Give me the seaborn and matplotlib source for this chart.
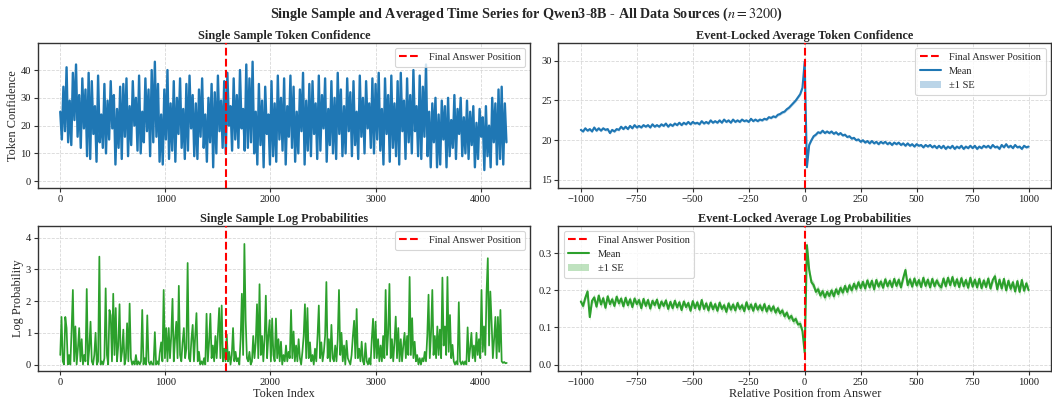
import numpy as np
import pandas as pd
import matplotlib
matplotlib.use("Agg")
import matplotlib.pyplot as plt
import seaborn as sns

# ---------------- data ----------------
suptitle_text = "Single Sample and Averaged Time Series for Qwen3-8B - All Data Sources ($n=3200$)"
titles = ["Single Sample Token Confidence", "Event-Locked Average Token Confidence",
          "Single Sample Log Probabilities", "Event-Locked Average Log Probabilities"]
answer_token = 1580          # final answer position in the single sample
conf_step = 15               # token spacing of the single-sample confidence readings
logp_step = 12               # token spacing of the single-sample log-prob readings
rel_step = 10                # spacing of event-locked readings
rel_start = -1000

single_conf = [
    25, 15, 34, 18, 41, 14, 29, 13, 39, 22, 42, 16, 31, 12, 37, 19, 33, 9, 39, 8,
    36, 17, 27, 7, 38, 14, 24, 12, 35, 10, 29, 15, 36, 19, 31, 6, 26, 12, 34, 8,
    35, 16, 37, 9, 27, 13, 36, 20, 30, 11, 38, 10, 25, 14, 37, 18, 33, 9, 40, 14,
    43, 16, 35, 7, 24, 6, 33, 15, 40, 8, 28, 11, 36, 7, 30, 17, 37, 12, 26, 8,
    35, 11, 38, 19, 31, 9, 28, 8, 33, 16, 37, 12, 24, 7, 30, 14, 35, 5, 32, 10,
    38, 18, 29, 12, 36, 10, 39, 20, 27, 11, 37, 15, 31, 12, 40, 19, 26, 11, 42, 12,
    37, 14, 43, 10, 25, 6, 35, 13, 29, 5, 34, 17, 24, 6, 36, 9, 28, 7, 38, 15,
    30, 11, 37, 6, 27, 16, 38, 12, 34, 7, 25, 10, 33, 18, 39, 6, 29, 11, 35, 9,
    36, 17, 28, 8, 38, 11, 31, 19, 37, 7, 26, 13, 36, 10, 30, 8, 39, 17, 33, 9,
    27, 10, 37, 18, 32, 9, 36, 13, 25, 8, 38, 16, 30, 10, 36, 19, 28, 12, 37, 10,
    35, 15, 39, 11, 26, 6, 37, 17, 31, 7, 38, 12, 28, 9, 36, 6, 39, 18, 29, 8,
    37, 14, 31, 10, 40, 18, 27, 9, 38, 8, 34, 16, 42, 9, 25, 5, 28, 14, 30, 5,
    24, 6, 29, 15, 27, 5, 30, 9, 22, 12, 31, 8, 26, 17, 30, 9, 23, 10, 29, 8,
    25, 13, 27, 5, 21, 8, 26, 16, 23, 4, 27, 9, 20, 5, 30, 14, 28, 6, 33, 8,
    34, 6, 28, 14,
]

single_logp = [
    0.3, 1.5, 0.1, 0.0, 1.5, 1.15, 0.0, 0.3, 0.0, 1.1, 2.35, 0.1, 1.2, 0.0, 0.5, 1.15, 0.1, 0.8, 0.0, 0.3,
    0.1, 2.38, 0.0, 0.5, 1.35, 0.1, 0.0, 0.3, 1.0, 0.0, 0.1, 3.4, 0.0, 0.1, 0.0, 0.2, 2.4, 0.3, 0.0, 1.72,
    1.55, 0.1, 2.23, 0.3, 1.78, 0.1, 0.6, 1.9, 0.1, 0.4, 1.1, 0.0, 0.2, 1.3, 0.1, 1.92, 0.2, 0.0, 0.1, 0.0,
    0.3, 0.0, 0.1, 0.0, 0.1, 1.72, 0.0, 0.2, 0.0, 1.55, 0.1, 0.0, 0.1, 0.0, 0.0, 1.02, 0.0, 0.1, 0.0, 0.4,
    0.7, 0.1, 2.35, 0.2, 1.15, 0.1, 1.15, 0.2, 0.9, 2.07, 0.1, 0.8, 1.35, 0.2, 2.48, 0.3, 0.1, 0.7, 1.15, 0.2,
    0.5, 3.2, 0.2, 0.1, 0.8, 1.25, 0.1, 0.9, 1.62, 0.1, 0.4, 0.0, 0.1, 0.0, 0.2, 0.0, 1.6, 0.1, 0.7, 1.6,
    0.2, 0.6, 0.1, 0.9, 0.2, 1.0, 1.78, 0.2, 1.86, 0.1, 0.5, 0.1, 0.95, 0.1, 0.4, 0.0, 0.3, 1.15, 0.1, 0.4,
    0.1, 0.2, 0.0, 0.8, 2.23, 0.3, 3.8, 1.4, 0.2, 0.1, 0.4, 0.0, 0.1, 0.9, 0.2, 0.7, 1.9, 0.2, 2.53, 0.3,
    0.9, 0.1, 0.8, 2.17, 0.2, 0.9, 1.4, 0.1, 1.45, 0.3, 0.1, 1.45, 0.2, 0.8, 0.1, 0.72, 0.0, 0.3, 0.1, 0.6,
    0.1, 0.4, 0.2, 1.72, 0.2, 1.04, 0.1, 0.6, 0.1, 0.8, 0.2, 0.0, 0.4, 0.9, 1.9, 0.2, 1.78, 0.2, 0.7, 0.1,
    0.3, 0.0, 0.5, 0.1, 0.9, 1.86, 0.2, 0.7, 0.1, 0.4, 0.9, 2.6, 0.2, 0.8, 0.1, 1.25, 0.2, 0.1, 0.6, 0.1,
    0.8, 2.35, 0.3, 1.0, 0.1, 0.6, 0.0, 0.75, 0.2, 0.1, 0.0, 0.3, 0.9, 1.38, 0.2, 1.75, 0.2, 0.5, 0.1, 0.72,
    0.1, 0.0, 0.67, 0.1, 0.0, 0.2, 0.0, 0.8, 1.44, 0.2, 1.35, 0.2, 0.8, 0.1, 0.6, 0.1, 0.9, 0.2, 2.35, 0.3,
    1.0, 2.54, 0.2, 0.8, 0.1, 0.7, 1.51, 0.2, 1.15, 0.1, 0.8, 0.1, 0.6, 1.0, 0.2, 0.9, 0.3, 2.76, 0.3, 1.46,
    0.2, 0.72, 0.1, 0.3, 0.0, 0.2, 0.0, 0.2, 0.1, 0.4, 0.1, 0.9, 2.2, 0.2, 1.0, 2.35, 0.3, 0.9, 0.2, 1.2,
    0.3, 1.1, 0.2, 2.74, 0.6, 1.2, 0.3, 2.76, 0.4, 1.56, 0.2, 0.62, 0.1, 0.0, 0.1, 0.0, 1.96, 0.1, 0.0, 0.1,
    0.0, 0.1, 0.0, 1.17, 0.1, 0.5, 1.0, 0.2, 0.6, 0.1, 1.0, 0.3, 0.8, 0.2, 2.35, 0.4, 1.2, 0.3, 2.28, 3.35,
    0.6, 2.3, 1.35, 0.2, 0.8, 1.5, 0.2, 1.5, 0.4, 1.72, 0.1, 0.05, 0.08, 0.04, 0.05,
]

avg_conf = [
    21.3, 21.1, 21.5, 21.2, 21.4, 21.1, 21.6, 21.2, 21.5, 21.2, 21.5, 21.3, 21.4, 20.9, 21.3, 21.1, 21.4, 21.3, 21.7, 21.4,
    21.7, 21.4, 21.8, 21.5, 21.9, 21.6, 21.8, 21.6, 21.9, 21.7, 21.9, 21.6, 22.0, 21.7, 21.9, 21.7, 22.0, 21.8, 22.1, 21.7,
    22.0, 21.8, 22.1, 21.9, 22.2, 21.9, 22.2, 22.0, 22.3, 22.0, 22.3, 22.1, 22.2, 22.0, 22.4, 22.1, 22.3, 22.1, 22.5, 22.2,
    22.4, 22.2, 22.5, 22.2, 22.6, 22.3, 22.5, 22.2, 22.6, 22.3, 22.5, 22.3, 22.6, 22.4, 22.5, 22.3, 22.7, 22.4, 22.6, 22.4,
    22.6, 22.5, 22.7, 22.6, 22.9, 22.8, 23.0, 22.9, 23.2, 23.3, 23.5, 23.6, 23.9, 24.1, 24.4, 24.7, 25.0, 25.4, 25.8, 26.6,
    29.9,
    16.6, 19.4, 20.0, 20.5, 20.7, 21.0, 20.9, 21.2, 20.9, 21.1, 20.9, 21.1, 20.8, 21.0, 20.7, 20.9, 20.6, 20.7, 20.4, 20.5,
    20.2, 20.3, 20.0, 20.1, 19.8, 20.0, 19.7, 19.9, 19.6, 19.9, 19.6, 19.8, 19.5, 19.8, 19.6, 19.8, 19.5, 19.7, 19.4, 19.7,
    19.5, 19.7, 19.4, 19.6, 19.3, 19.6, 19.3, 19.5, 19.2, 19.5, 19.3, 19.4, 19.1, 19.4, 19.2, 19.4, 19.1, 19.3, 19.0, 19.3,
    19.0, 19.3, 18.9, 19.2, 19.0, 19.3, 18.9, 19.2, 19.0, 19.3, 18.9, 19.2, 19.0, 19.3, 19.0, 19.3, 18.9, 19.2, 19.0, 19.3,
    19.1, 19.3, 19.0, 19.4, 19.1, 19.2, 18.9, 19.4, 19.1, 19.5, 19.1, 19.3, 19.0, 19.4, 19.1, 19.2, 18.9, 19.3, 19.1, 19.2,
]

avg_conf_se = [
    0.16, 0.17, 0.16, 0.16, 0.17, 0.16, 0.16, 0.17, 0.16, 0.16, 0.16, 0.17, 0.16, 0.16, 0.17, 0.16, 0.16, 0.16, 0.17, 0.16,
    0.16, 0.16, 0.17, 0.16, 0.16, 0.16, 0.17, 0.16, 0.16, 0.16, 0.16, 0.17, 0.16, 0.16, 0.16, 0.16, 0.17, 0.16, 0.16, 0.16,
    0.16, 0.16, 0.16, 0.17, 0.16, 0.16, 0.16, 0.16, 0.16, 0.17, 0.16, 0.16, 0.16, 0.16, 0.16, 0.16, 0.17, 0.16, 0.16, 0.16,
    0.16, 0.16, 0.16, 0.16, 0.16, 0.17, 0.16, 0.16, 0.16, 0.16, 0.16, 0.16, 0.16, 0.17, 0.16, 0.16, 0.16, 0.16, 0.16, 0.16,
    0.16, 0.16, 0.16, 0.16, 0.17, 0.16, 0.16, 0.17, 0.17, 0.17, 0.17, 0.17, 0.18, 0.18, 0.18, 0.18, 0.19, 0.19, 0.20, 0.22,
    0.26,
    0.22, 0.19, 0.18, 0.18, 0.17, 0.17, 0.17, 0.17, 0.17, 0.17, 0.17, 0.17, 0.16, 0.16, 0.16, 0.16, 0.16, 0.16, 0.16, 0.16,
    0.16, 0.16, 0.16, 0.16, 0.16, 0.16, 0.16, 0.16, 0.16, 0.16, 0.16, 0.16, 0.16, 0.16, 0.16, 0.16, 0.16, 0.16, 0.16, 0.16,
    0.16, 0.16, 0.16, 0.16, 0.16, 0.16, 0.16, 0.16, 0.16, 0.16, 0.16, 0.16, 0.16, 0.16, 0.16, 0.16, 0.16, 0.16, 0.16, 0.16,
    0.16, 0.16, 0.16, 0.16, 0.16, 0.16, 0.16, 0.16, 0.16, 0.16, 0.16, 0.16, 0.16, 0.16, 0.16, 0.16, 0.16, 0.16, 0.16, 0.16,
    0.16, 0.16, 0.16, 0.16, 0.16, 0.16, 0.16, 0.16, 0.16, 0.16, 0.16, 0.16, 0.16, 0.16, 0.16, 0.16, 0.16, 0.16, 0.16, 0.16,
]

avg_logp = [
    0.170, 0.158, 0.180, 0.197, 0.128, 0.172, 0.181, 0.156, 0.186, 0.162, 0.179, 0.153, 0.184, 0.163, 0.176, 0.158, 0.183, 0.165, 0.178, 0.157,
    0.180, 0.160, 0.176, 0.155, 0.178, 0.163, 0.174, 0.152, 0.177, 0.158, 0.174, 0.151, 0.172, 0.160, 0.175, 0.152, 0.170, 0.158, 0.173, 0.150,
    0.169, 0.152, 0.172, 0.154, 0.168, 0.147, 0.170, 0.155, 0.166, 0.145, 0.171, 0.152, 0.168, 0.148, 0.174, 0.150, 0.165, 0.146, 0.167, 0.149,
    0.163, 0.145, 0.167, 0.150, 0.160, 0.142, 0.165, 0.148, 0.162, 0.146, 0.166, 0.150, 0.160, 0.144, 0.168, 0.149, 0.162, 0.145, 0.164, 0.148,
    0.160, 0.146, 0.163, 0.143, 0.158, 0.145, 0.157, 0.140, 0.152, 0.138, 0.146, 0.130, 0.140, 0.124, 0.131, 0.117, 0.123, 0.108, 0.110, 0.090,
    0.032,
    0.322, 0.255, 0.222, 0.214, 0.196, 0.203, 0.186, 0.198, 0.181, 0.196, 0.185, 0.200, 0.184, 0.203, 0.190, 0.207, 0.194, 0.212, 0.196, 0.214,
    0.200, 0.218, 0.204, 0.222, 0.206, 0.223, 0.205, 0.227, 0.208, 0.226, 0.203, 0.228, 0.210, 0.224, 0.207, 0.230, 0.211, 0.226, 0.209, 0.231,
    0.212, 0.229, 0.208, 0.233, 0.255, 0.214, 0.230, 0.210, 0.232, 0.213, 0.228, 0.209, 0.234, 0.212, 0.229, 0.208, 0.231, 0.211, 0.227, 0.214,
    0.208, 0.232, 0.211, 0.234, 0.214, 0.236, 0.212, 0.230, 0.209, 0.233, 0.211, 0.228, 0.207, 0.234, 0.210, 0.229, 0.208, 0.231, 0.206, 0.227,
    0.209, 0.232, 0.205, 0.228, 0.238, 0.203, 0.229, 0.205, 0.231, 0.200, 0.226, 0.204, 0.222, 0.197, 0.225, 0.196, 0.228, 0.199, 0.219, 0.201,
]

avg_logp_se = [
    0.009, 0.009, 0.009, 0.010, 0.009, 0.009, 0.009, 0.009, 0.009, 0.009, 0.009, 0.009, 0.009, 0.009, 0.009, 0.009, 0.009, 0.009, 0.009, 0.009,
    0.009, 0.009, 0.009, 0.009, 0.009, 0.009, 0.009, 0.009, 0.009, 0.009, 0.009, 0.009, 0.009, 0.009, 0.009, 0.009, 0.009, 0.009, 0.009, 0.009,
    0.009, 0.009, 0.009, 0.009, 0.009, 0.009, 0.009, 0.009, 0.009, 0.009, 0.009, 0.009, 0.009, 0.009, 0.009, 0.009, 0.009, 0.009, 0.009, 0.009,
    0.009, 0.009, 0.009, 0.009, 0.009, 0.009, 0.009, 0.009, 0.009, 0.009, 0.009, 0.009, 0.009, 0.009, 0.009, 0.009, 0.009, 0.009, 0.009, 0.009,
    0.009, 0.009, 0.009, 0.009, 0.009, 0.009, 0.009, 0.009, 0.009, 0.009, 0.009, 0.009, 0.009, 0.009, 0.009, 0.009, 0.009, 0.009, 0.009, 0.009,
    0.008,
    0.012, 0.011, 0.010, 0.010, 0.010, 0.010, 0.010, 0.010, 0.010, 0.010, 0.010, 0.010, 0.010, 0.010, 0.010, 0.010, 0.010, 0.010, 0.010, 0.010,
    0.010, 0.010, 0.010, 0.010, 0.010, 0.010, 0.010, 0.010, 0.010, 0.010, 0.010, 0.010, 0.010, 0.010, 0.010, 0.010, 0.010, 0.010, 0.010, 0.010,
    0.010, 0.010, 0.010, 0.010, 0.011, 0.010, 0.010, 0.010, 0.010, 0.010, 0.010, 0.010, 0.010, 0.010, 0.010, 0.010, 0.010, 0.010, 0.010, 0.010,
    0.010, 0.010, 0.010, 0.010, 0.010, 0.010, 0.010, 0.010, 0.010, 0.010, 0.010, 0.010, 0.010, 0.010, 0.010, 0.010, 0.010, 0.010, 0.010, 0.010,
    0.010, 0.010, 0.010, 0.010, 0.011, 0.010, 0.010, 0.010, 0.010, 0.010, 0.010, 0.010, 0.010, 0.010, 0.010, 0.010, 0.010, 0.010, 0.010, 0.010,
]

# ---------------- style ----------------
sns.set_theme(style="ticks")
plt.rcParams["font.family"] = ["Liberation Serif", "DejaVu Serif"]
plt.rcParams["mathtext.fontset"] = "stix"
plt.rcParams["axes.edgecolor"] = "0.2"
plt.rcParams["axes.linewidth"] = 1.0
plt.rcParams["xtick.color"] = "0.2"
plt.rcParams["ytick.color"] = "0.2"
plt.rcParams["xtick.labelcolor"] = "0.1"
plt.rcParams["ytick.labelcolor"] = "0.1"

BLUE = "#1f77b4"
GREEN = "#2ca02c"
TICK_FS = 7.6
LABEL_FS = 8.8
TITLE_FS = 8.8
LEG_FS = 7.5

fig = plt.figure(figsize=(10.52, 4.04), dpi=100)
gs = fig.add_gridspec(2, 2, left=0.036, right=0.999, top=0.894, bottom=0.082,
                      wspace=0.057, hspace=0.262)
ax_tl = fig.add_subplot(gs[0, 0])
ax_tr = fig.add_subplot(gs[0, 1])
ax_bl = fig.add_subplot(gs[1, 0])
ax_br = fig.add_subplot(gs[1, 1])

df_conf = pd.DataFrame({"token": np.arange(len(single_conf)) * conf_step, "value": single_conf})
df_logp = pd.DataFrame({"token": np.arange(len(single_logp)) * logp_step, "value": single_logp})
rel = rel_start + np.arange(len(avg_conf)) * rel_step
df_aconf = pd.DataFrame({"rel": rel, "mean": avg_conf, "se": avg_conf_se})
df_alogp = pd.DataFrame({"rel": rel, "mean": avg_logp, "se": avg_logp_se})


def style_ax(ax):
    ax.grid(True, linestyle="--", linewidth=0.6, color="0.75", alpha=0.6)
    ax.set_axisbelow(True)
    ax.tick_params(labelsize=TICK_FS, length=3, width=0.8, pad=2)
    for s in ax.spines.values():
        s.set_visible(True)


def legend(ax, loc):
    lg = ax.legend(loc=loc, fontsize=LEG_FS, frameon=True, fancybox=True,
                   framealpha=0.8, edgecolor="0.8", borderpad=0.45,
                   handlelength=2.0, labelspacing=0.45)
    lg.get_frame().set_linewidth(0.8)


# top-left
sns.lineplot(data=df_conf, x="token", y="value", ax=ax_tl, color=BLUE, linewidth=1.7,
             errorbar=None, estimator=None)
ax_tl.axvline(answer_token, color="red", linestyle="--", linewidth=1.5, zorder=3,
              label="Final Answer Position")
ax_tl.set_xlim(-213, 4473)
ax_tl.set_ylim(-2.4, 49.8)
ax_tl.set_yticks([0, 10, 20, 30, 40])
ax_tl.set_xticks([0, 1000, 2000, 3000, 4000])
ax_tl.set_xlabel("")
ax_tl.set_ylabel("Token Confidence", fontsize=LABEL_FS, labelpad=1)
ax_tl.set_title(titles[0], fontsize=TITLE_FS, fontweight="bold", pad=3)
style_ax(ax_tl)
legend(ax_tl, "upper right")

# bottom-left
sns.lineplot(data=df_logp, x="token", y="value", ax=ax_bl, color=GREEN, linewidth=1.25,
             errorbar=None, estimator=None)
ax_bl.axvline(answer_token, color="red", linestyle="--", linewidth=1.5, zorder=3,
              label="Final Answer Position")
ax_bl.set_xlim(-213, 4473)
ax_bl.set_ylim(-0.2, 4.37)
ax_bl.set_yticks([0, 1, 2, 3, 4])
ax_bl.set_xticks([0, 1000, 2000, 3000, 4000])
ax_bl.set_xlabel("Token Index", fontsize=LABEL_FS, labelpad=1)
ax_bl.set_ylabel("Log Probability", fontsize=LABEL_FS, labelpad=1)
ax_bl.set_title(titles[2], fontsize=TITLE_FS, fontweight="bold", pad=3)
style_ax(ax_bl)
legend(ax_bl, "upper right")

# top-right
ax_tr.axvline(0, color="red", linestyle="--", linewidth=1.5, zorder=3,
              label="Final Answer Position")
sns.lineplot(data=df_aconf, x="rel", y="mean", ax=ax_tr, color=BLUE, linewidth=1.5,
             errorbar=None, estimator=None, label="Mean")
ax_tr.fill_between(df_aconf["rel"], df_aconf["mean"] - df_aconf["se"],
                   df_aconf["mean"] + df_aconf["se"], color=BLUE, alpha=0.3,
                   linewidth=0, label="±1 SE")
ax_tr.set_xlim(-1100, 1100)
ax_tr.set_ylim(14.0, 32.26)
ax_tr.set_yticks([15, 20, 25, 30])
ax_tr.set_xticks([-1000, -750, -500, -250, 0, 250, 500, 750, 1000])
ax_tr.set_xlabel("")
ax_tr.set_ylabel("")
ax_tr.set_title(titles[1], fontsize=TITLE_FS, fontweight="bold", pad=3)
style_ax(ax_tr)
legend(ax_tr, "upper right")

# bottom-right
ax_br.axvline(0, color="red", linestyle="--", linewidth=1.5, zorder=3,
              label="Final Answer Position")
sns.lineplot(data=df_alogp, x="rel", y="mean", ax=ax_br, color=GREEN, linewidth=1.5,
             errorbar=None, estimator=None, label="Mean")
ax_br.fill_between(df_alogp["rel"], df_alogp["mean"] - df_alogp["se"],
                   df_alogp["mean"] + df_alogp["se"], color=GREEN, alpha=0.3,
                   linewidth=0, label="±1 SE")
ax_br.set_xlim(-1100, 1100)
ax_br.set_ylim(-0.017, 0.374)
ax_br.set_yticks([0.0, 0.1, 0.2, 0.3])
ax_br.set_xticks([-1000, -750, -500, -250, 0, 250, 500, 750, 1000])
ax_br.set_xlabel("Relative Position from Answer", fontsize=LABEL_FS, labelpad=1)
ax_br.set_ylabel("")
ax_br.set_title(titles[3], fontsize=TITLE_FS, fontweight="bold", pad=3)
style_ax(ax_br)
legend(ax_br, "upper left")

fig.suptitle(suptitle_text, fontsize=10.2, fontweight="bold", y=0.985)

fig.savefig("out.png", dpi=100)
